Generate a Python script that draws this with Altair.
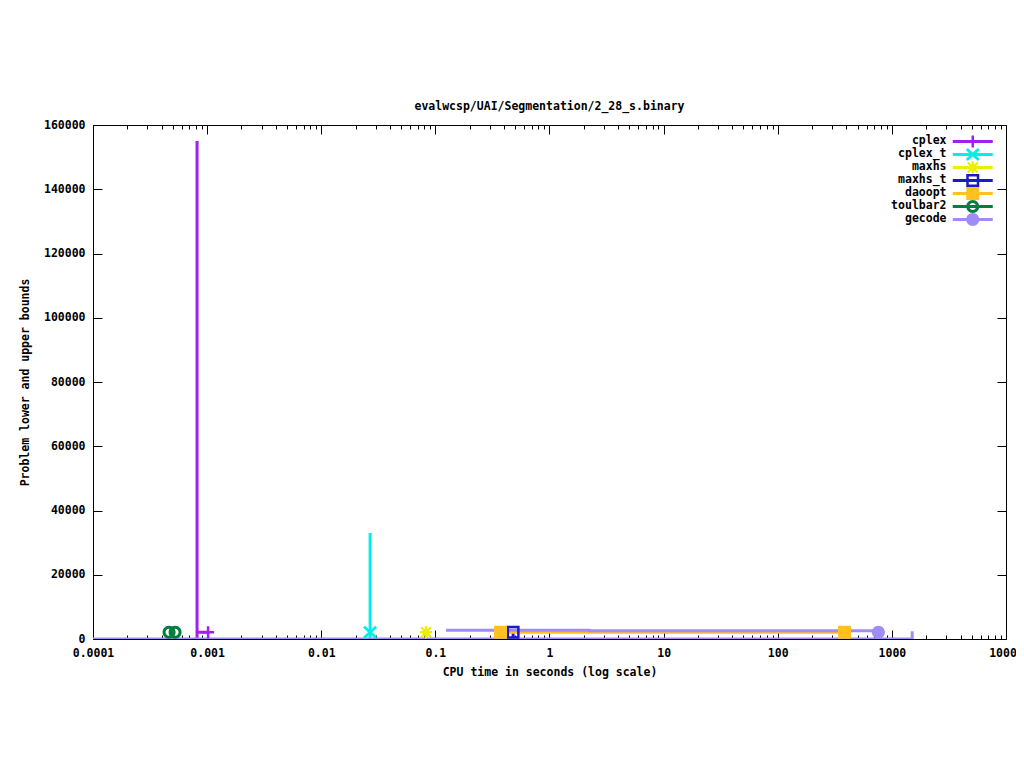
import altair as alt
import pandas as pd

FONT = "DejaVu Sans Mono"

solvers = ["cplex", "cplex_t", "maxhs", "maxhs_t", "daoopt", "toulbar2", "gecode"]
colors = ["#a020f0", "#00eeee", "#eeee00", "#1a1ac8", "#ffc020", "#007f3f", "#a08cf8"]

# bound trajectories (corners of the step lines), time in seconds and bound value
cplex_time = [0.000816, 0.000816, 0.000816, 0.00102]
cplex_bound = [0, 155000, 2100, 2100]
cplex_t_time = [0.0268, 0.0268, 0.0268]
cplex_t_bound = [0, 33000, 2100]
maxhs_time = [0.0828, 0.0828]
maxhs_bound = [0, 2100]
maxhs_t_time = [0.48, 0.48]
maxhs_t_bound = [0, 2100]
daoopt_time = [0.372, 385]
daoopt_bound = [2100, 2100]
toulbar2_time = [0.000464, 0.000524]
toulbar2_bound = [2100, 2100]
gecode_ub_time = [0.124, 2.22, 2.22, 762, 762]
gecode_ub_bound = [2700, 2700, 2550, 2550, 2100]
gecode_lb_time = [0.0001, 1507, 1507]
gecode_lb_bound = [0, 0, 2400]

# plotted points
marker_solver = ["cplex", "cplex_t", "maxhs", "maxhs_t", "daoopt", "daoopt", "toulbar2", "toulbar2", "gecode"]
marker_time = [0.00102, 0.0268, 0.0828, 0.48, 0.372, 385, 0.000464, 0.000524, 762]
marker_bound = [2100, 2100, 2100, 2100, 2100, 2100, 2100, 2100, 2100]

x_major = [0.0001, 0.001, 0.01, 0.1, 1, 10, 100, 1000, 10000]
x_minor = [k * m for m in [0.0001, 0.001, 0.01, 0.1, 1, 10, 100, 1000] for k in range(2, 10)]
y_ticks = [0, 20000, 40000, 60000, 80000, 100000, 120000, 140000, 160000]


# marker glyphs (gnuplot-like), in pixels, drawn around horizontal centre c
def plus(c):
    return f"M{c-6},-1.25H{c+6}V1.25H{c-6}Z M{c-1.25},-6H{c+1.25}V6H{c-1.25}Z"

def cross(c):
    return (f"M{c-5},-6.5L{c+7},4.5L{c+5},6.5L{c-7},-4.5Z "
            f"M{c+5},-6.5L{c+7},-4.5L{c-5},6.5L{c-7},4.5Z")

def star(c):
    return (plus(c) + f" M{c-4.2},-5.8L{c+5.8},4.2L{c+4.2},5.8L{c-5.8},-4.2Z"
            f" M{c+4.2},-5.8L{c+5.8},-4.2L{c-4.2},5.8L{c-5.8},4.2Z")

def osquare(c):
    return f"M{c-6.5},-6.5H{c+6.5}V6.5H{c-6.5}Z M{c-4},-4V4H{c+4}V-4Z"

def fsquare(c):
    return f"M{c-6.5},-6.5H{c+6.5}V6.5H{c-6.5}Z"

def ocircle(c):
    return (f"M{c-6.5},0A6.5,6.5,0,1,1,{c+6.5},0A6.5,6.5,0,1,1,{c-6.5},0Z "
            f"M{c-3.5},0A3.5,3.5,0,1,0,{c+3.5},0A3.5,3.5,0,1,0,{c-3.5},0Z")

def fcircle(c):
    return f"M{c-6.5},0A6.5,6.5,0,1,1,{c+6.5},0A6.5,6.5,0,1,1,{c-6.5},0Z"

glyphs = [plus, cross, star, osquare, fsquare, ocircle, fcircle]
marker_paths = [g(0) for g in glyphs]
LC = 77  # legend sample centre, to the right of the label
legend_paths = [f"M{LC-20},-1.5H{LC+20}V1.5H{LC-20}Z M{LC},-6.5V6.5 " + g(LC) for g in glyphs]
colour_of = dict(zip(solvers, colors))

series = [
    ("cplex", "cplex", cplex_time, cplex_bound),
    ("cplex_t", "cplex_t", cplex_t_time, cplex_t_bound),
    ("maxhs", "maxhs", maxhs_time, maxhs_bound),
    ("maxhs_t", "maxhs_t", maxhs_t_time, maxhs_t_bound),
    ("daoopt", "daoopt", daoopt_time, daoopt_bound),
    ("toulbar2", "toulbar2", toulbar2_time, toulbar2_bound),
    ("gecode", "gecode_ub", gecode_ub_time, gecode_ub_bound),
    ("gecode", "gecode_lb", gecode_lb_time, gecode_lb_bound),
]
rows = []
for s, seg, ts, vs in series:
    for i, (t, v) in enumerate(zip(ts, vs)):
        rows.append({"solver": s, "seg": seg, "idx": i, "time": t, "bound": v, "col": colour_of[s]})
lines_df = pd.DataFrame(rows)
markers_df = pd.DataFrame({"solver": marker_solver, "time": marker_time, "bound": marker_bound})
markers_df["col"] = markers_df["solver"].map(colour_of)
legend_df = pd.DataFrame({"solver": solvers})

W, H = 913, 514
xscale = alt.Scale(type="log", domain=[0.0001, 10000], nice=False)
yscale = alt.Scale(domain=[0, 160000], nice=False)


def blank_axis(orient, values, size, offset):
    return alt.Axis(orient=orient, values=values, tickSize=size, offset=offset, labels=False,
                    domain=False, grid=False, title=None, tickColor="black", tickWidth=1)


lines = alt.Chart(lines_df).mark_line(strokeWidth=3, clip=True).encode(
    x=alt.X("time:Q", scale=xscale,
            axis=alt.Axis(orient="bottom", values=x_major, format="~g", tickSize=0, domain=False,
                          grid=False, labelPadding=8, labelFlush=False,
                          title="CPU time in seconds (log scale)", titlePadding=8)),
    y=alt.Y("bound:Q", scale=yscale,
            axis=alt.Axis(orient="left", values=y_ticks, format="d", tickSize=0, domain=False,
                          grid=False, labelPadding=8, labelFlush=False,
                          title="Problem lower and upper bounds", titlePadding=12.5)),
    stroke=alt.Stroke("col:N", scale=None),
    detail="seg:N",
    order="idx:Q",
)

marker_layers = [
    alt.Chart(markers_df).transform_filter(alt.datum.solver == s)
    .mark_point(shape=p, filled=True, size=4, opacity=1)
    .encode(x=alt.X("time:Q", axis=None), y=alt.Y("bound:Q", axis=None),
            fill=alt.Fill("col:N", scale=None))
    for s, p in zip(solvers, marker_paths)
]

ghost0 = alt.Chart(markers_df).mark_point(opacity=0).encode(
    x=alt.X("time:Q", axis=blank_axis("top", x_major, 9, -H)),
    y=alt.Y("bound:Q", axis=blank_axis("right", y_ticks, 9, -W)),
)
ghost1 = alt.Chart(markers_df).mark_point(opacity=0).encode(
    x=alt.X("time:Q", axis=blank_axis("top", x_minor, 4, -H)),
    y=alt.Y("bound:Q", axis=blank_axis("left", y_ticks, 9, -W)),
)
ghost2 = alt.Chart(markers_df).mark_point(opacity=0).encode(
    x=alt.X("time:Q", axis=blank_axis("bottom", x_major, 9, -H)),
    y=alt.Y("bound:Q", axis=None),
)
ghost3 = alt.Chart(markers_df).mark_point(opacity=0).encode(
    x=alt.X("time:Q", axis=blank_axis("bottom", x_minor, 4, -H)),
    y=alt.Y("bound:Q", axis=None),
)

leg = alt.Legend(orient="none", legendX=797, legendY=10.7, title=None, labelFont=FONT,
                 labelFontSize=11.5, labelFontWeight="bold", labelColor="black",
                 labelAlign="right", labelOffset=45,
                 symbolSize=4, symbolStrokeWidth=0, symbolOpacity=1,
                 rowPadding=-1.4, padding=0)
legend_layer = alt.Chart(legend_df).mark_point(filled=True, size=4, opacity=0).encode(
    color=alt.Color("solver:N", scale=alt.Scale(domain=solvers, range=colors), legend=leg),
    shape=alt.Shape("solver:N", scale=alt.Scale(domain=solvers, range=legend_paths), legend=leg),
)

chart = alt.layer(lines, *marker_layers, ghost0, ghost1, ghost2, ghost3, legend_layer).resolve_axis(
    x="independent", y="independent"
).properties(
    width=W, height=H,
    autosize=alt.AutoSizeParams(type="none"),
    padding={"left": 85, "top": 117, "right": 10, "bottom": 100},
    background="white",
    title=alt.Title("evalwcsp/UAI/Segmentation/2_28_s.binary", font=FONT, fontSize=11.5,
                    fontWeight="bold", anchor="middle", baseline="bottom", offset=-4, color="black"),
).configure_view(stroke="black", strokeWidth=1).configure_axis(
    labelFont=FONT, titleFont=FONT, labelFontSize=11.5, titleFontSize=11.5,
    labelFontWeight="bold", titleFontWeight="bold", labelColor="black", titleColor="black",
)

chart.save("out.html", embed_options={"renderer": "svg", "actions": False})
